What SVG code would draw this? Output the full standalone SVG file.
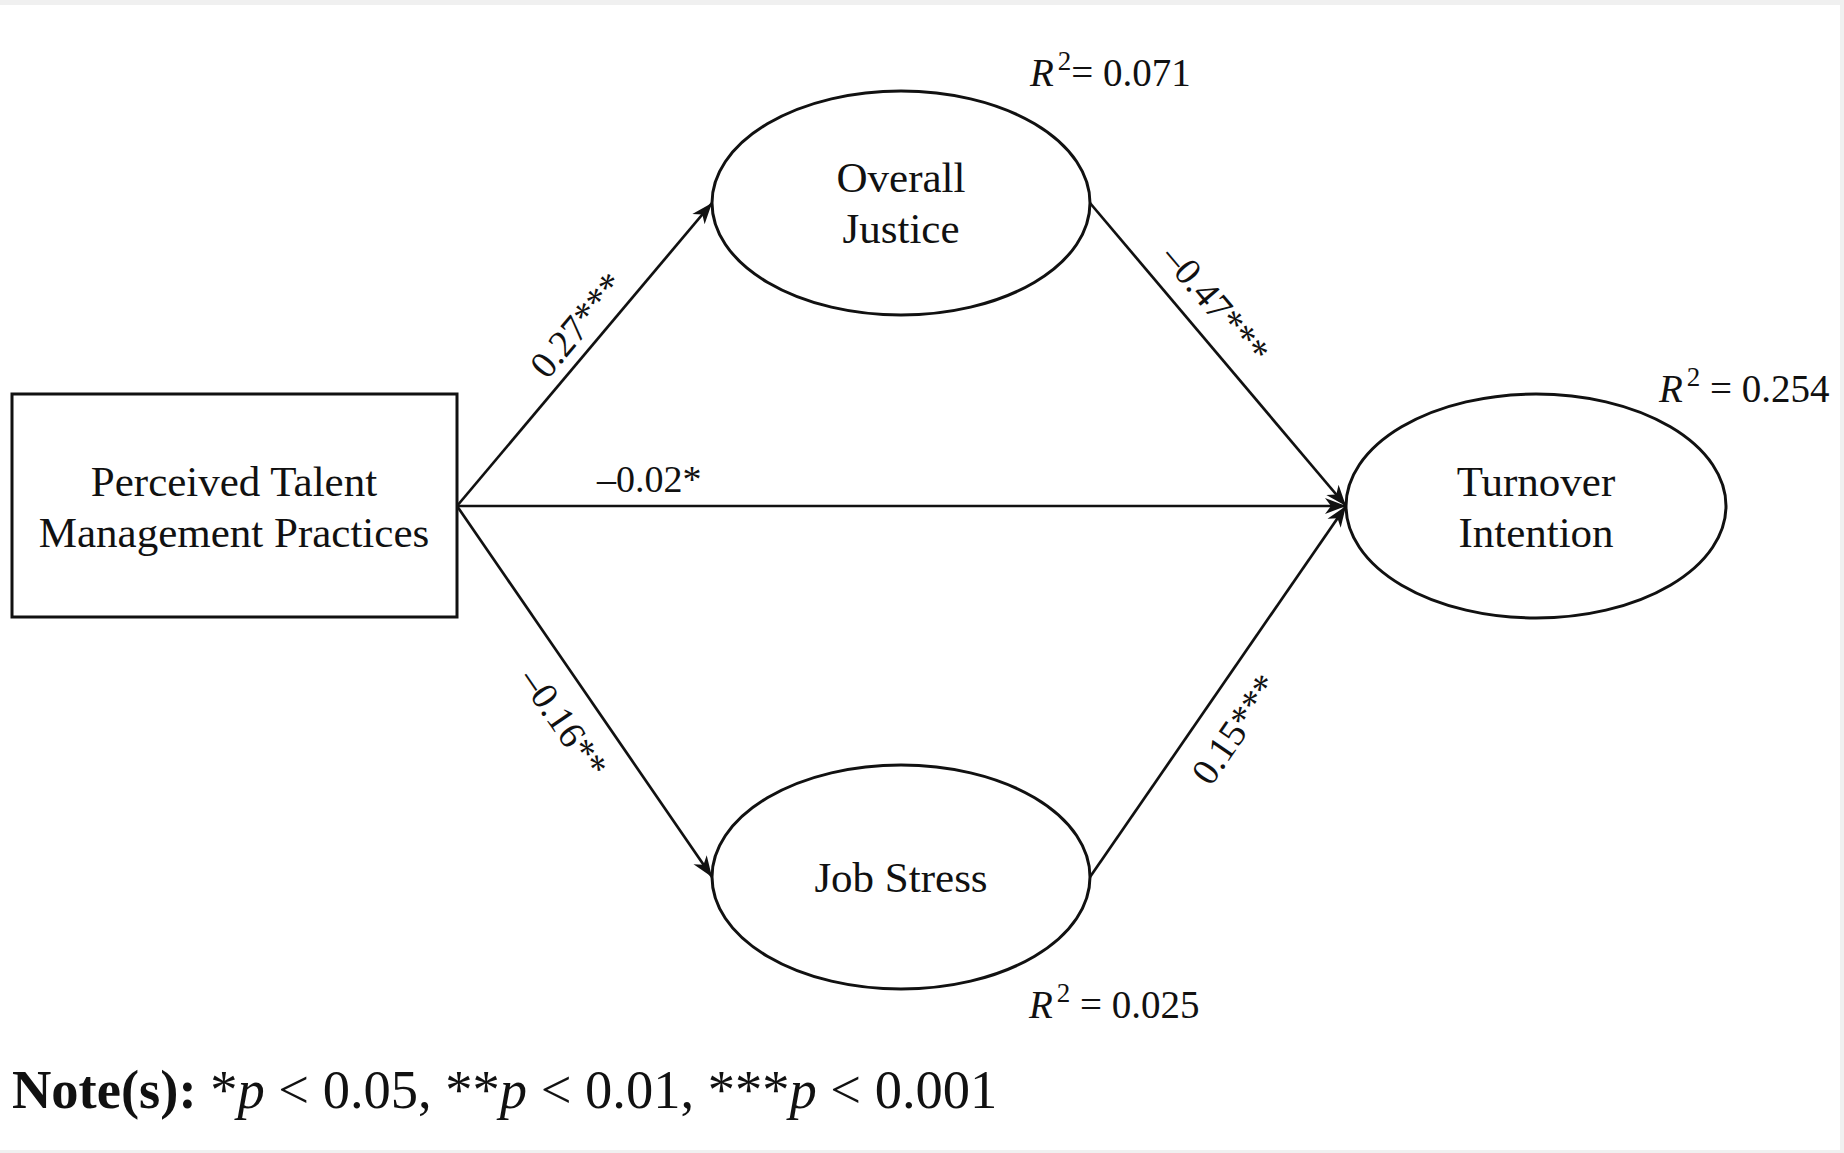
<svg xmlns="http://www.w3.org/2000/svg" width="1844" height="1153" viewBox="0 0 1844 1153">
<defs>
<style>
.node{fill:#fff;stroke:#111;stroke-width:3}
.t{font-family:"Liberation Serif","Times New Roman",serif;fill:#111}
.nt{font-size:43px;text-anchor:middle}
.lb{font-size:38px}
.r2{font-size:39px}
.edge{stroke:#111;stroke-width:2.7;fill:none;marker-end:url(#arr)}
</style>
<marker id="arr" markerUnits="userSpaceOnUse" markerWidth="24" markerHeight="18" viewBox="0 0 24 18" refX="21" refY="9" orient="auto">
<path d="M0,1 L21,9 L0,17 L6,9 z" fill="#111"/>
</marker>
</defs>
<rect x="0" y="0" width="1844" height="1153" fill="#f0f0f0"/>
<rect x="0" y="5" width="1840" height="1145" fill="#fff"/>

<g id="connectors">
<line class="edge" x1="457" y1="506" x2="712" y2="203"/>
<line class="edge" x1="457" y1="506" x2="1346" y2="506"/>
<line class="edge" x1="457" y1="506" x2="712" y2="877"/>
<line class="edge" x1="1090" y1="203" x2="1346" y2="506"/>
<line class="edge" x1="1090" y1="877" x2="1346" y2="506"/>
<text class="t lb" text-anchor="middle" transform="rotate(-49.9 577 325)" x="577" y="338">0.27***</text>
<text class="t lb" x="597" y="492">–0.02*</text>
<text class="t lb" text-anchor="middle" transform="rotate(49.8 1216 304)" x="1216" y="317">–0.47***</text>
<text class="t lb" text-anchor="middle" transform="rotate(55.5 564 723)" x="564" y="736">–0.16**</text>
<text class="t lb" text-anchor="middle" transform="rotate(-55.4 1235 729)" x="1235" y="742">0.15***</text>
</g>

<g id="ptmp">
<rect class="node" x="12" y="394" width="445" height="223"/>
<text class="t nt" x="234" y="496">Perceived Talent</text>
<text class="t nt" x="234" y="547">Management Practices</text>
</g>

<g id="overall-justice">
<ellipse class="node" cx="901" cy="203" rx="189" ry="112"/>
<text class="t nt" x="901" y="192">Overall</text>
<text class="t nt" x="901" y="243">Justice</text>
<text class="t r2" x="1030" y="86"><tspan font-style="italic">R</tspan><tspan font-size="27" dx="4" dy="-16">2</tspan><tspan dy="16">= 0.071</tspan></text>
</g>

<g id="job-stress">
<ellipse class="node" cx="901" cy="877" rx="189" ry="112"/>
<text class="t nt" x="901" y="892">Job Stress</text>
<text class="t r2" x="1029" y="1018"><tspan font-style="italic">R</tspan><tspan font-size="27" dx="4" dy="-16">2</tspan><tspan dy="16"> = 0.025</tspan></text>
</g>

<g id="turnover-intention">
<ellipse class="node" cx="1536" cy="506" rx="190" ry="112"/>
<text class="t nt" x="1536" y="496">Turnover</text>
<text class="t nt" x="1536" y="547">Intention</text>
<text class="t r2" x="1659" y="402"><tspan font-style="italic">R</tspan><tspan font-size="27" dx="4" dy="-16">2</tspan><tspan dy="16"> = 0.254</tspan></text>
</g>

<text class="t" x="12" y="1108" font-size="54.5"><tspan font-weight="bold">Note(s):</tspan> *<tspan font-style="italic">p</tspan> &lt; 0.05, **<tspan font-style="italic">p</tspan> &lt; 0.01, ***<tspan font-style="italic">p</tspan> &lt; 0.001</text>
</svg>
